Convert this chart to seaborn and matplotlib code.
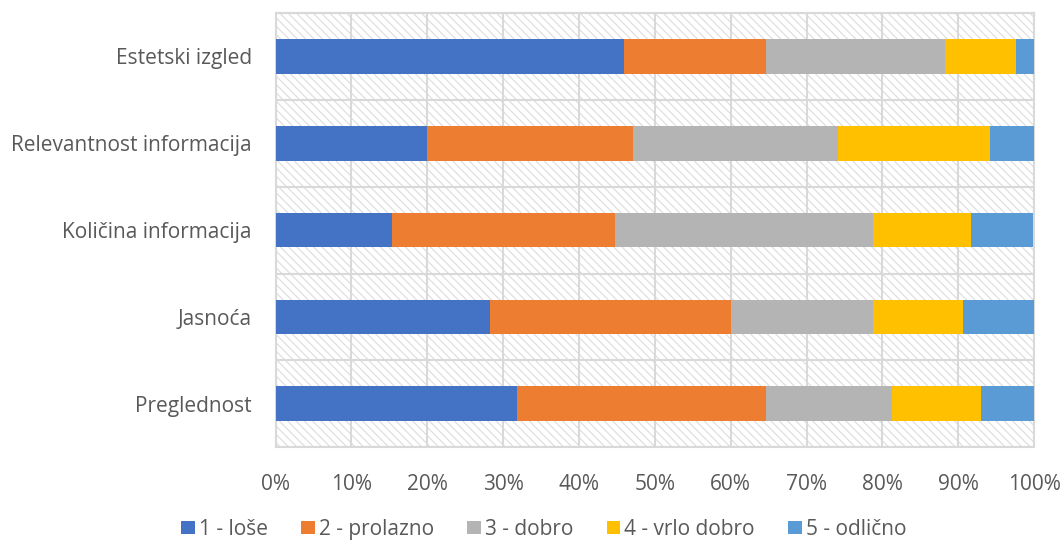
import numpy as np
import pandas as pd
import matplotlib
matplotlib.use("Agg")
import matplotlib.pyplot as plt
from matplotlib.patches import Patch
from matplotlib.ticker import FixedLocator, PercentFormatter
import seaborn as sns

# data (% of answers)
categories = ["Estetski izgled", "Relevantnost informacija", "Količina informacija",
              "Jasnoća", "Preglednost"]
series = ["1 - loše", "2 - prolazno", "3 - dobro", "4 - vrlo dobro", "5 - odlično"]
lose = [45.9, 20.0, 15.3, 28.2, 31.8]
prolazno = [18.8, 27.1, 29.4, 31.8, 32.9]
dobro = [23.5, 27.1, 34.1, 18.8, 16.5]
vrlo_dobro = [9.4, 20.0, 12.9, 11.8, 11.8]
odlicno = [2.4, 5.9, 8.2, 9.4, 7.1]
colors = ["#4472c4", "#ed7d31", "#b4b4b4", "#ffc000", "#5b9bd5"]

df = pd.DataFrame({"kategorija": categories, series[0]: lose, series[1]: prolazno,
                   series[2]: dobro, series[3]: vrlo_dobro, series[4]: odlicno})

sns.set_theme(style="white")
plt.rcParams["font.family"] = ["Open Sans", "DejaVu Sans"]
plt.rcParams["hatch.color"] = "#dcdcdc"
plt.rcParams["hatch.linewidth"] = 0.8

fig = plt.figure(figsize=(10.64, 5.44), dpi=100)
ax = fig.add_axes([0.259, 0.178, 0.713, 0.798])

# hatched plot area like the excel original
ax.patch.set_facecolor("white")
ax.patch.set_hatch("\\\\\\\\")
ax.patch.set_edgecolor("#dcdcdc")

# stacked bars: draw the cumulative totals from the longest down
cum = df[series].cumsum(axis=1)
for i in range(len(series) - 1, -1, -1):
    sns.barplot(x=cum[series[i]], y=df["kategorija"], color=colors[i], width=0.4,
                orient="y", ax=ax, saturation=1, linewidth=0, zorder=3)

ax.set_xlim(0, 100)
ax.set_ylim(4.5, -0.5)
ax.xaxis.set_major_locator(FixedLocator(np.arange(0, 101, 10)))
ax.xaxis.set_major_formatter(PercentFormatter(decimals=0))
ax.yaxis.set_minor_locator(FixedLocator(np.arange(-0.5, 5, 1)))
ax.grid(axis="x", which="major", color="#d9d9d9", linewidth=1.5, zorder=1)
ax.grid(axis="y", which="minor", color="#d9d9d9", linewidth=1.5, zorder=1)
ax.set_axisbelow(True)
for s in ax.spines.values():
    s.set_color("#d9d9d9")
    s.set_linewidth(1.5)

ax.set_xlabel("")
ax.set_ylabel("")
ax.tick_params(axis="both", which="both", length=0, labelsize=15, colors="#595959")
ax.tick_params(axis="x", pad=19)
ax.tick_params(axis="y", pad=17)

handles = [Patch(facecolor=c, edgecolor="none") for c in colors]
fig.legend(handles, series, loc="center", bbox_to_anchor=(0.511, 0.027), ncol=5,
           frameon=False, fontsize=15, handlelength=0.65, handleheight=0.65,
           handletextpad=0.2, columnspacing=1.6, labelcolor="#595959")

fig.savefig("out.png", dpi=100)
